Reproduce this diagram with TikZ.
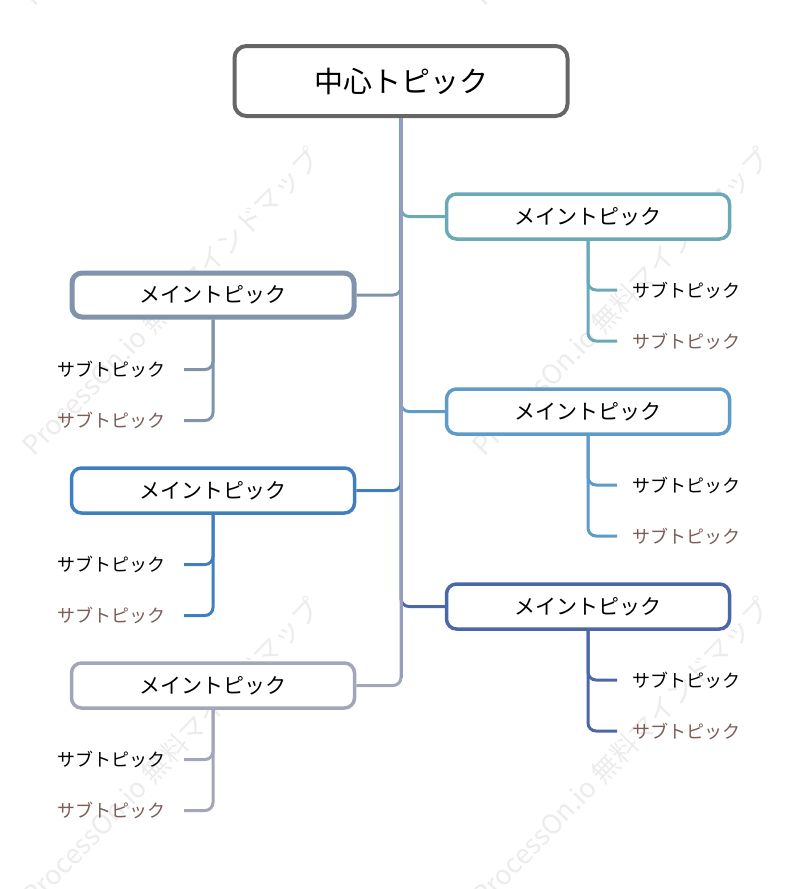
\documentclass[tikz,border=0pt]{standalone}
\usepackage{fontspec}
\setmainfont{Noto Sans CJK JP}
\definecolor{cgray}{HTML}{666666}
\definecolor{cR1}{HTML}{6AAAB7}
\definecolor{cR2}{HTML}{5E9BC8}
\definecolor{cR3}{HTML}{4B68A6}
\definecolor{cL1}{HTML}{7F93AB}
\definecolor{cL2}{HTML}{3F7EBF}
\definecolor{cL3}{HTML}{A3A6BA}
\definecolor{ctrunk}{HTML}{959EBD}
\definecolor{cbrown}{HTML}{7B5C57}
\definecolor{cwm}{HTML}{ECECEC}
\begin{document}
\begin{tikzpicture}[x=1pt,y=-1pt,
  mainbox/.style={draw, line width=3.5pt, rounded corners=10pt, fill=white,
    minimum width=283pt, minimum height=45pt, inner sep=0pt,
    font=\fontsize{21}{24}\selectfont},
  subR/.style={anchor=west, inner xsep=15pt, inner ysep=2pt, font=\fontsize{18}{20}\selectfont},
  subL/.style={anchor=east, inner xsep=18pt, inner ysep=2pt, font=\fontsize{18}{20}\selectfont},
  conn/.style={line width=3pt, rounded corners=8pt},
  wm/.style={rotate=46, text=cwm, font=\fontsize{27}{30}\selectfont}
]
\useasboundingbox (0,0) rectangle (802,889);
\begin{scope}
\clip (0,0) rectangle (802,889);
\node[wm] (w1) at (171,302) {ProcessOn.io 無料マインドマップ};
\node[wm] (w2) at (621,302) {ProcessOn.io 無料マインドマップ};
\node[wm] (w3) at (171,752) {ProcessOn.io 無料マインドマップ};
\node[wm] (w4) at (621,752) {ProcessOn.io 無料マインドマップ};
\node[wm] (w5) at (171,-148) {ProcessOn.io 無料マインドマップ};
\node[wm] (w6) at (621,-148) {ProcessOn.io 無料マインドマップ};
\end{scope}

% central topic
\node[draw=cgray, line width=4pt, rounded corners=12pt, fill=white,
  minimum width=333pt, minimum height=70pt, inner sep=0pt,
  font=\fontsize{29}{32}\selectfont] (c) at (401,81) {中心トピック};

% main topics
\node[mainbox, draw=cR1] (r1) at (588,216.5) {メイントピック};
\node[mainbox, draw=cR2] (r2) at (588,411.5) {メイントピック};
\node[mainbox, draw=cR3] (r3) at (588,606.5) {メイントピック};
\node[mainbox, draw=cL1, line width=5pt, minimum width=282pt, minimum height=44pt] (l1) at (213,295) {メイントピック};
\node[mainbox, draw=cL2] (l2) at (213,490.5) {メイントピック};
\node[mainbox, draw=cL3] (l3) at (213,685.5) {メイントピック};

% subtopics
\node[subR] (r1a) at (617,290) {サブトピック};
\node[subR, text=cbrown] (r1b) at (617,341) {サブトピック};
\node[subR] (r2a) at (617,485) {サブトピック};
\node[subR, text=cbrown] (r2b) at (617,536) {サブトピック};
\node[subR] (r3a) at (617,680) {サブトピック};
\node[subR, text=cbrown] (r3b) at (617,731) {サブトピック};
\node[subL] (l1a) at (184,369.5) {サブトピック};
\node[subL, text=cbrown] (l1b) at (184,420.5) {サブトピック};
\node[subL] (l2a) at (184,564.5) {サブトピック};
\node[subL, text=cbrown] (l2b) at (184,615.5) {サブトピック};
\node[subL] (l3a) at (184,759.5) {サブトピック};
\node[subL, text=cbrown] (l3b) at (184,810.5) {サブトピック};

% branches from centre
\draw[conn, cL3] (c.south) |- (l3.east);
\draw[conn, cR3] (c.south) |- (r3.west);
\draw[conn, cL2] (c.south) |- (l2.east);
\draw[conn, cR2] (c.south) |- (r2.west);
\draw[conn, cL1] (c.south) |- (l1.east);
\draw[conn, cR1] (c.south) |- (r1.west);
\draw[line width=3pt, ctrunk] (c.south) -- ([yshift=8pt]c.south |- l3.east);

% sub branches
\draw[conn, cR1] (r1.south) |- (r1a.west);
\draw[conn, cR1] (r1.south) |- (r1b.west);
\draw[conn, cR2] (r2.south) |- (r2a.west);
\draw[conn, cR2] (r2.south) |- (r2b.west);
\draw[conn, cR3] (r3.south) |- (r3a.west);
\draw[conn, cR3] (r3.south) |- (r3b.west);
\draw[conn, cL1] (l1.south) |- (l1a.east);
\draw[conn, cL1] (l1.south) |- (l1b.east);
\draw[conn, cL2] (l2.south) |- (l2a.east);
\draw[conn, cL2] (l2.south) |- (l2b.east);
\draw[conn, cL3] (l3.south) |- (l3a.east);
\draw[conn, cL3] (l3.south) |- (l3b.east);
\end{tikzpicture}
\end{document}
